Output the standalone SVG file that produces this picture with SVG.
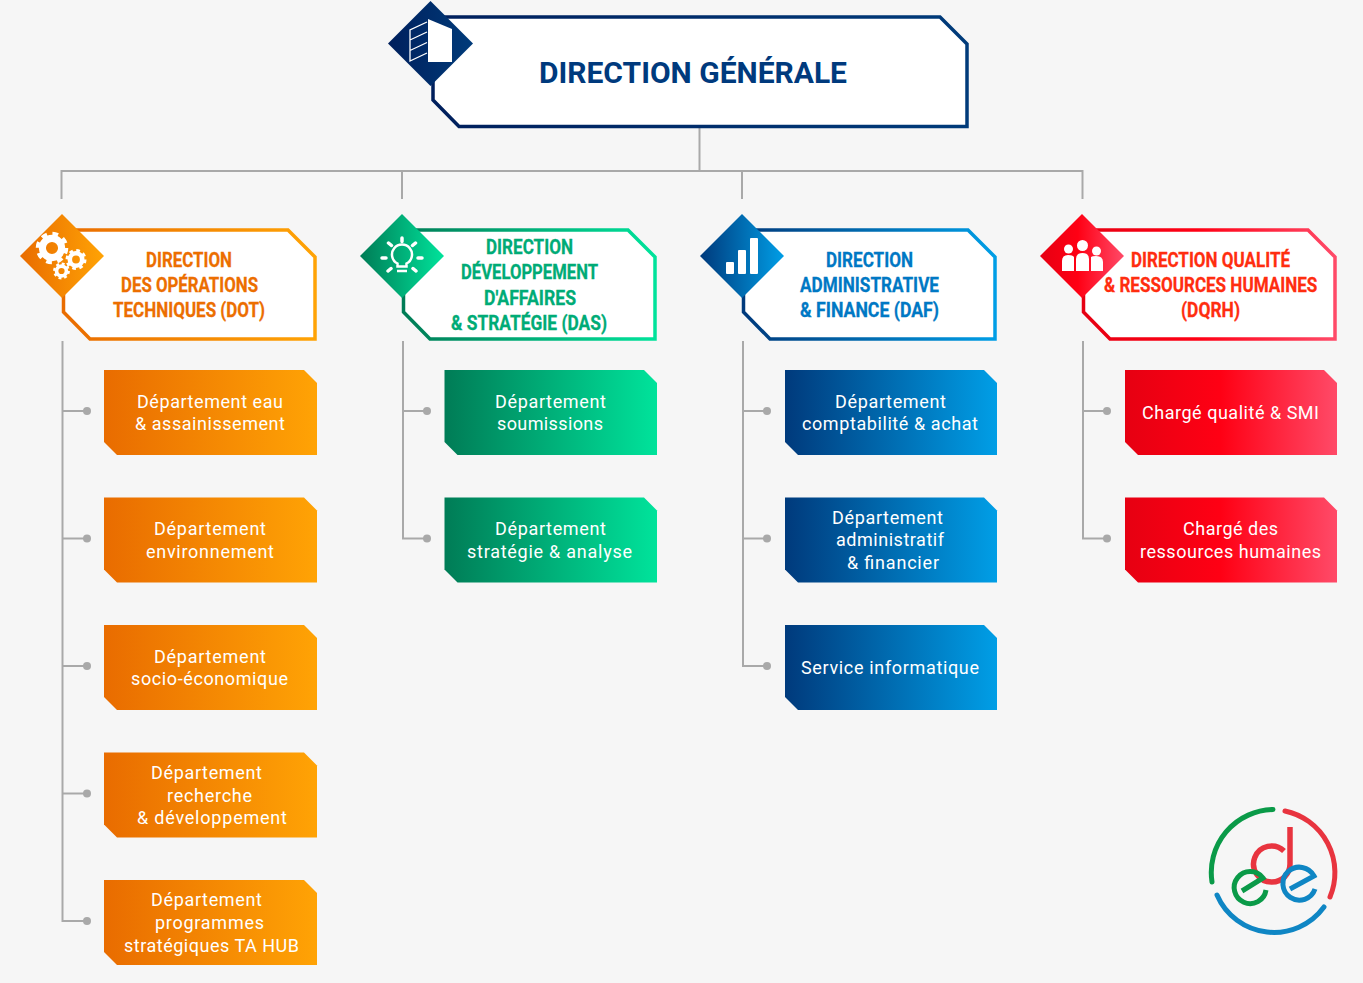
<svg xmlns="http://www.w3.org/2000/svg" width="1363" height="983" viewBox="0 0 1363 983">
<style>
.h{font-family:Roboto,"Liberation Sans",sans-serif;font-weight:700;font-size:21px;stroke-width:.3px}
.b{font-family:Roboto,"Liberation Sans",sans-serif;font-weight:400;font-size:18px;fill:#fff}
.c{fill:none;stroke:#a9a9a9;stroke-width:2}
.d{fill:#a9a9a9}
.box{fill:#fff;stroke-width:3.5}
.ic{fill:#fff}
.il{fill:none;stroke:#fff}
.o{fill:url(#go)}.g{fill:url(#gg)}.u{fill:url(#gu)}.r{fill:url(#gr)}
</style>
<defs>
<linearGradient id="gn"><stop offset="0" stop-color="#001f5c"/><stop offset="1" stop-color="#003b7a"/></linearGradient>
<linearGradient id="go"><stop offset="0" stop-color="#e96c00"/><stop offset="1" stop-color="#ffa305"/></linearGradient>
<linearGradient id="gg"><stop offset="0" stop-color="#007c56"/><stop offset="1" stop-color="#00e39b"/></linearGradient>
<linearGradient id="gu"><stop offset="0" stop-color="#003a7c"/><stop offset="1" stop-color="#009ee6"/></linearGradient>
<linearGradient id="gr"><stop offset="0" stop-color="#e60012"/><stop offset="0.45" stop-color="#ff0014"/><stop offset="1" stop-color="#ff4a68"/></linearGradient>
<g id="gear"><circle r="0.62" fill="none" stroke="#fff" stroke-width="0.46"/><circle r="0.9" fill="none" stroke="#fff" stroke-width="0.3" stroke-dasharray="0.36 0.347"/></g>
</defs>
<rect width="1363" height="983" fill="#f6f6f6"/>
<g id="connectors">
<path class="c" d="M699.500 128V171M61.500 199V171H1082.500V199M402 171V199M742 171V199"/>
<path class="c" d="M62.500 341V921H87M62.500 411H87M62.500 538.500H87M62.500 666H87M62.500 793.500H87"/>
<path class="c" d="M403 341V538.500H427M403 411H427"/>
<path class="c" d="M743 341V666H767M743 411H767M743 538.500H767"/>
<path class="c" d="M1083 341V538.500H1107M1083 411H1107"/>
<g class="d">
<circle cx="87" cy="411" r="4"/><circle cx="87" cy="538.500" r="4"/><circle cx="87" cy="666" r="4"/><circle cx="87" cy="793.500" r="4"/><circle cx="87" cy="921" r="4"/>
<circle cx="427" cy="411" r="4"/><circle cx="427" cy="538.500" r="4"/>
<circle cx="767" cy="411" r="4"/><circle cx="767" cy="538.500" r="4"/><circle cx="767" cy="666" r="4"/>
<circle cx="1107" cy="411" r="4"/><circle cx="1107" cy="538.500" r="4"/>
</g>
</g>
<g id="direction-generale">
<path d="M433 17H940L967 44V126.500H459L433 100Z" fill="#fff" stroke="url(#gn)" stroke-width="3.500"/>
<path d="M430.500 1L473 43.500L430.500 86L388 43.500Z" fill="url(#gn)"/>
<path class="ic" d="M428 19L452 29V62H428Z"/>
<path class="il" stroke-width="1.300" d="M427 22L410 30V61L427 53M410 40L427 32M410 50.500L427 42.500"/>
<text x="539" y="83" font-family="Roboto,'Liberation Sans',sans-serif" font-weight="700" font-size="30" fill="#003a7d" textLength="308" lengthAdjust="spacingAndGlyphs">DIRECTION GÉNÉRALE</text>
</g>
<g id="dir-dot">
<path class="box" stroke="url(#go)" d="M63.500 230H288L315 257V339H90L63.500 312Z"/>
<path class="o" d="M62 214L104 256L62 298L20 256Z"/>
<use href="#gear" transform="translate(52 248) scale(15.500)"/>
<use href="#gear" transform="translate(76 259.500) scale(10)"/>
<use href="#gear" transform="translate(61.500 271) scale(8)"/>
<g class="h" fill="#ec6e00" stroke="#ec6e00">
<text x="146" y="267" textLength="86" lengthAdjust="spacingAndGlyphs">DIRECTION</text>
<text x="121" y="292" textLength="137" lengthAdjust="spacingAndGlyphs">DES OPÉRATIONS</text>
<text x="113" y="317" textLength="152" lengthAdjust="spacingAndGlyphs">TECHNIQUES (DOT)</text>
</g>
</g>
<g id="dir-das">
<path class="box" stroke="url(#gg)" d="M403.500 230H628L655 257V339H430L403.500 312Z"/>
<path class="g" d="M402 214L444 256L402 298L360 256Z"/>
<path class="il" stroke-width="2.500" d="M397.500 266.500V263.500A10 10 0 1 1 406.500 263.500V266.500Z"/>
<path class="il" stroke-width="2.500" d="M397 271H407"/>
<path class="il" stroke-width="3.500" stroke-linecap="round" d="M402 238V241.500M388.500 243L391.500 245.500M415.500 243L412.500 245.500M382 258H386M418 258H422M388 271L391 268.500M416 271L413 268.500"/>
<g class="h" fill="#00ab76" stroke="#00ab76">
<text x="486" y="254" textLength="87" lengthAdjust="spacingAndGlyphs">DIRECTION</text>
<text x="461" y="279" textLength="137" lengthAdjust="spacingAndGlyphs">DÉVELOPPEMENT</text>
<text x="484" y="305" textLength="92" lengthAdjust="spacingAndGlyphs">D'AFFAIRES</text>
<text x="451" y="330" textLength="156" lengthAdjust="spacingAndGlyphs">&amp; STRATÉGIE (DAS)</text>
</g>
</g>
<g id="dir-daf">
<path class="box" stroke="url(#gu)" d="M743.500 230H968L995 257V339H770L743.500 312Z"/>
<path class="u" d="M742 214L784 256L742 298L700 256Z"/>
<rect class="ic" x="726" y="262" width="8" height="12" rx="1"/><rect class="ic" x="738" y="250" width="8" height="24" rx="1"/><rect class="ic" x="750" y="238" width="8" height="36" rx="1"/>
<g class="h" fill="#0078c4" stroke="#0078c4">
<text x="826" y="267" textLength="87" lengthAdjust="spacingAndGlyphs">DIRECTION</text>
<text x="800" y="292" textLength="139" lengthAdjust="spacingAndGlyphs">ADMINISTRATIVE</text>
<text x="800" y="317" textLength="139" lengthAdjust="spacingAndGlyphs">&amp; FINANCE (DAF)</text>
</g>
</g>
<g id="dir-dqrh">
<path class="box" stroke="url(#gr)" d="M1083.500 230H1308L1335 257V339H1110L1083.500 312Z"/>
<path class="r" d="M1082 214L1124 256L1082 298L1040 256Z"/>
<g class="ic">
<circle cx="1068.500" cy="249" r="4.500"/><circle cx="1082.500" cy="245.500" r="5.500"/><circle cx="1096.500" cy="251" r="4.500"/>
<path d="M1062 271V261Q1062 255 1068 255Q1073 255 1074 257V271Z"/>
<path d="M1076 271V259Q1076 253 1082.500 253Q1089 253 1089 259V271Z"/>
<path d="M1091 271V257Q1092 256 1096 256Q1103 256 1103 262V271Z"/>
</g>
<g class="h" fill="#ff2d0f" stroke="#ff2d0f">
<text x="1131" y="267" textLength="159" lengthAdjust="spacingAndGlyphs">DIRECTION QUALITÉ</text>
<text transform="translate(1104 292) scale(.86 1)" textLength="248" lengthAdjust="spacingAndGlyphs">&amp; RESSOURCES HUMAINES</text>
<text x="1181" y="317" textLength="59" lengthAdjust="spacingAndGlyphs">(DQRH)</text>
</g>
</g>
<g id="dot-1"><path class="o" d="M104 370H304L317 383V455H117L104 442Z"/><g class="b"><text x="137" y="408" textLength="146">Département eau</text><text x="135" y="430" textLength="150">&amp; assainissement</text></g></g>
<g id="dot-2"><path class="o" d="M104 497.500H304L317 510.500V582.500H117L104 569.500Z"/><g class="b"><text x="154" y="535" textLength="112">Département</text><text x="146" y="558" textLength="128">environnement</text></g></g>
<g id="dot-3"><path class="o" d="M104 625H304L317 638V710H117L104 697Z"/><g class="b"><text x="154" y="663" textLength="112">Département</text><text x="131" y="685" textLength="157">socio-économique</text></g></g>
<g id="dot-4"><path class="o" d="M104 752.500H304L317 765.500V837.500H117L104 824.500Z"/><g class="b"><text x="151" y="779" textLength="111">Département</text><text x="167" y="802" textLength="85">recherche</text><text x="137" y="824" textLength="150">&amp; développement</text></g></g>
<g id="dot-5"><path class="o" d="M104 880H304L317 893V965H117L104 952Z"/><g class="b"><text x="151" y="906" textLength="111">Département</text><text x="155" y="929" textLength="109">programmes</text><text x="124" y="952" textLength="175">stratégiques TA HUB</text></g></g>
<g id="das-1"><path class="g" d="M444.500 370H644L657 383V455H457.500L444.500 442Z"/><g class="b"><text x="495" y="408" textLength="111">Département</text><text x="497" y="430" textLength="106">soumissions</text></g></g>
<g id="das-2"><path class="g" d="M444.500 497.500H644L657 510.500V582.500H457.500L444.500 569.500Z"/><g class="b"><text x="495" y="535" textLength="111">Département</text><text x="467" y="558" textLength="165">stratégie &amp; analyse</text></g></g>
<g id="daf-1"><path class="u" d="M785 370H984L997 383V455H798L785 442Z"/><g class="b"><text x="835" y="408" textLength="111">Département</text><text x="802" y="430" textLength="176">comptabilité &amp; achat</text></g></g>
<g id="daf-2"><path class="u" d="M785 497.500H984L997 510.500V582.500H798L785 569.500Z"/><g class="b"><text x="832" y="524" textLength="111">Département</text><text x="836" y="546" textLength="108">administratif</text><text x="847" y="569" textLength="92">&amp; financier</text></g></g>
<g id="daf-3"><path class="u" d="M785 625H984L997 638V710H798L785 697Z"/><g class="b"><text x="801" y="674" textLength="178">Service informatique</text></g></g>
<g id="dqrh-1"><path class="r" d="M1125 370H1324L1337 383V455H1138L1125 442Z"/><g class="b"><text x="1142" y="419" textLength="177">Chargé qualité &amp; SMI</text></g></g>
<g id="dqrh-2"><path class="r" d="M1125 497.500H1324L1337 510.500V582.500H1138L1125 569.500Z"/><g class="b"><text x="1183" y="535" textLength="95">Chargé des</text><text x="1140" y="558" textLength="181">ressources humaines</text></g></g>
<g id="logo" fill="none" stroke-linecap="round">
<path stroke="#0a9a48" stroke-width="5" d="M1273 809.500A63 63 0 0 0 1212 882"/>
<path stroke="#e8343f" stroke-width="5" d="M1285 811A63 63 0 0 1 1330 897"/>
<path stroke="#0f86c4" stroke-width="5" d="M1217 895A62 62 0 0 0 1324 907"/>
<path stroke="#e8343f" stroke-width="5.500" stroke-linecap="butt" d="M1284 851A18 18 0 1 0 1272 882A18 18 0 0 0 1290 864V827"/>
<path stroke="#0a9a48" stroke-width="5" stroke-linecap="butt" d="M1242 891L1263 878A16 16 0 1 0 1266 890"/>
<path stroke="#0f86c4" stroke-width="5" stroke-linecap="butt" d="M1290 889L1314 876A16.500 16.500 0 1 0 1315 889"/>
</g>
</svg>
